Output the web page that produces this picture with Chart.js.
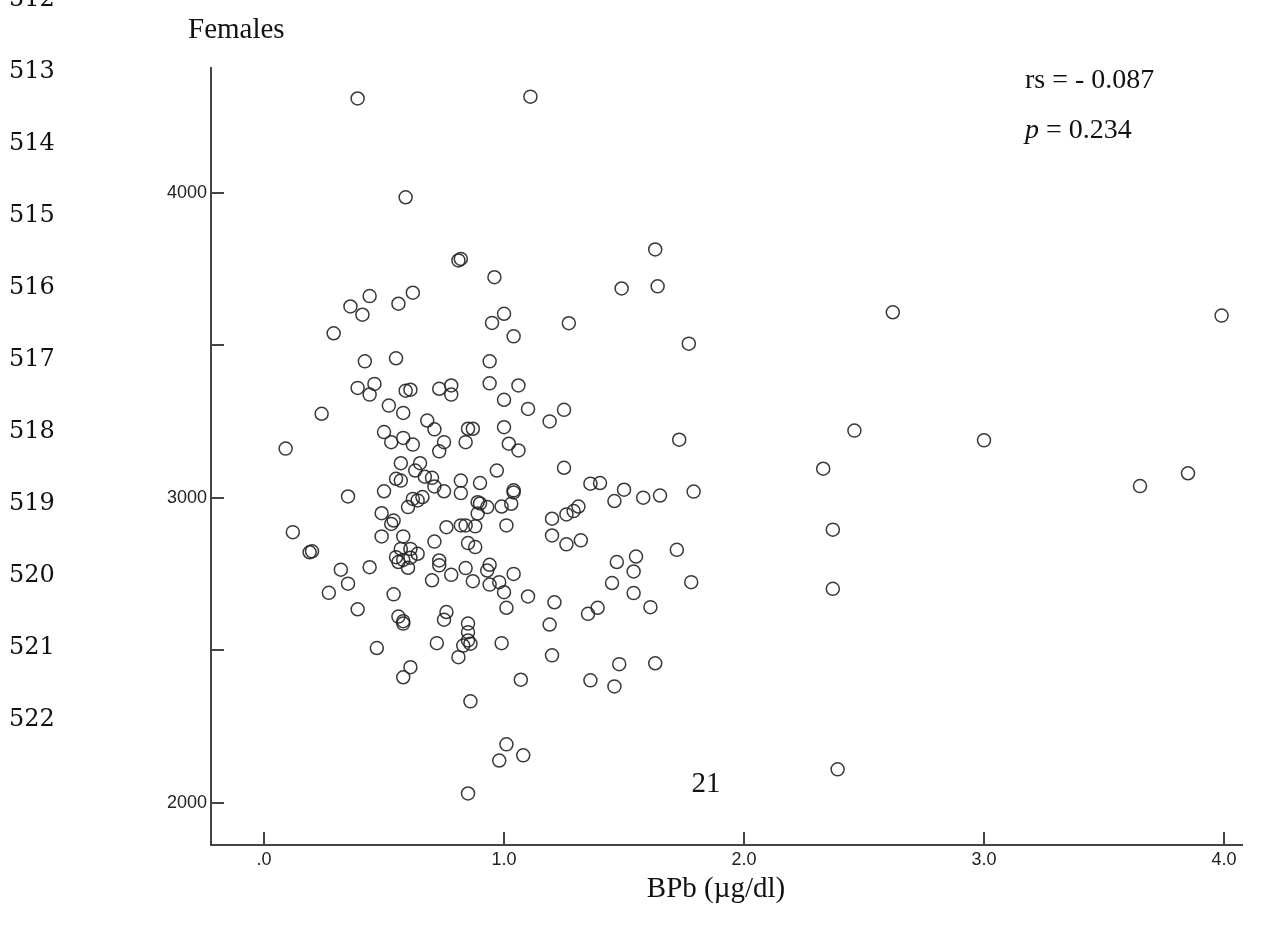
<!DOCTYPE html>
<html>
<head>
<meta charset="utf-8">
<title>Females - BPb scatter</title>
<script src="https://cdn.jsdelivr.net/npm/chart.js@4.4.1/dist/chart.umd.min.js"></script>
<style>
  html, body { margin: 0; padding: 0; background: #fff; }
  #wrap { width: 1264px; height: 944px; position: relative; }
</style>
</head>
<body>
<div id="wrap"><canvas id="chartFemales" width="1264" height="944"></canvas></div>
<script>
// --- data (females) ---
const bpbValues = [
  0.39, 1.11, 0.59, 0.81, 0.82, 0.96, 1.49, 0.44, 0.36, 0.41, 0.56, 0.62, 0.29, 0.95, 1.00, 1.04, 1.27, 0.42, 0.55, 0.94,
  1.63, 1.64, 1.77, 2.62, 3.99, 0.39, 0.46, 0.44, 0.59, 0.61, 0.73, 0.78, 0.78, 0.94, 1.06, 0.24, 0.52, 0.58, 1.00, 1.10,
  1.25, 1.19, 0.09, 0.50, 0.53, 0.58, 0.62, 0.68, 0.71, 0.75, 0.73, 0.84, 0.85, 0.87, 1.00, 1.02, 1.06, 1.25, 0.57, 0.65,
  0.63, 0.67, 0.70, 0.55, 0.57, 0.71, 0.75, 0.82, 0.90, 0.82, 0.97, 1.04, 1.04, 1.36, 1.40, 0.50, 0.35, 0.62, 0.64, 0.66,
  0.60, 0.49, 0.89, 0.90, 0.89, 0.93, 0.99, 1.03, 0.54, 0.53, 1.20, 1.26, 1.29, 1.31, 1.46, 0.76, 0.82, 0.84, 0.88, 1.01,
  0.12, 0.49, 0.58, 0.71, 0.85, 0.88, 1.20, 1.26, 1.32, 0.20, 0.19, 0.57, 0.61, 0.64, 0.55, 0.58, 0.61, 0.56, 0.60, 0.73,
  0.73, 0.84, 0.94, 0.93, 1.47, 0.32, 0.44, 0.35, 0.27, 0.70, 0.78, 0.87, 0.94, 0.98, 1.04, 1.00, 0.54, 0.39, 1.01, 1.10,
  1.21, 1.45, 0.56, 0.58, 0.58, 0.76, 0.75, 0.85, 0.85, 0.85, 0.83, 0.86, 1.19, 1.35, 1.39, 0.72, 0.81, 0.99, 1.20, 0.47,
  0.61, 0.58, 1.07, 1.36, 1.46, 1.48, 0.86, 1.73, 2.46, 3.00, 2.33, 1.50, 1.58, 1.65, 1.79, 2.37, 1.72, 1.55, 1.54, 1.78,
  1.54, 1.61, 2.37, 1.63, 3.65, 3.85, 1.01, 0.98, 1.08, 0.85, 2.39
];
const outcomeValues = [
  4310, 4316, 3986, 3779, 3784, 3724, 3687, 3662, 3628, 3601, 3637, 3673, 3540, 3574, 3604, 3530, 3573, 3448, 3458, 3448,
  3815, 3694, 3506, 3609, 3598, 3361, 3374, 3339, 3352, 3355, 3358, 3369, 3339, 3376, 3369, 3276, 3303, 3279, 3322, 3292,
  3289, 3251, 3162, 3216, 3183, 3197, 3175, 3254, 3225, 3183, 3153, 3183, 3227, 3227, 3232, 3178, 3156, 3099, 3114, 3114,
  3090, 3070, 3066, 3063, 3057, 3038, 3022, 3057, 3049, 3016, 3090, 3025, 3018, 3047, 3049, 3022, 3005, 2997, 2992, 3003,
  2970, 2950, 2986, 2982, 2949, 2970, 2972, 2981, 2926, 2915, 2932, 2946, 2957, 2972, 2990, 2904, 2910, 2910, 2907, 2910,
  2888, 2874, 2874, 2857, 2852, 2839, 2877, 2848, 2861, 2825, 2822, 2833, 2833, 2817, 2806, 2797, 2804, 2790, 2771, 2795,
  2779, 2770, 2781, 2762, 2790, 2765, 2773, 2719, 2689, 2730, 2748, 2727, 2716, 2724, 2751, 2691, 2684, 2635, 2640, 2677,
  2658, 2721, 2611, 2596, 2588, 2626, 2601, 2588, 2560, 2533, 2516, 2522, 2585, 2620, 2640, 2524, 2478, 2524, 2484, 2508,
  2445, 2412, 2404, 2402, 2382, 2455, 2333, 3191, 3221, 3189, 3096, 3027, 3001, 3008, 3021, 2896, 2830, 2808, 2759, 2724,
  2688, 2642, 2702, 2458, 3039, 3081, 2192, 2139, 2156, 2031, 2110
];

const xTickValues = [0, 1, 2, 3, 4];
const yTickValues = [2000, 2500, 3000, 3500, 4000];
const yLabelledTicks = [2000, 3000, 4000];
const lineNumbers = [512, 513, 514, 515, 516, 517, 518, 519, 520, 521, 522];

const points = bpbValues.map((x, i) => ({ x: x, y: outcomeValues[i] }));

const serif = '"Liberation Serif", "Times New Roman", serif';
const axisColor = '#444';

// tick marks drawn inward (SPSS style)
const inwardTicks = {
  id: 'inwardTicks',
  afterDraw(chart) {
    const { ctx, chartArea, scales } = chart;
    ctx.save();
    ctx.strokeStyle = axisColor;
    ctx.lineWidth = 2;
    ctx.beginPath();
    xTickValues.forEach(v => {
      const px = Math.round(scales.x.getPixelForValue(v));
      ctx.moveTo(px, chartArea.bottom);
      ctx.lineTo(px, chartArea.bottom - 13);
    });
    yTickValues.forEach(v => {
      const py = Math.round(scales.y.getPixelForValue(v));
      ctx.moveTo(chartArea.left, py);
      ctx.lineTo(chartArea.left + 13, py);
    });
    ctx.stroke();
    ctx.restore();
  }
};

// page text: line numbers, panel title, stats, page number, x title
const pageText = {
  id: 'pageText',
  afterDraw(chart) {
    const ctx = chart.ctx;
    ctx.save();
    ctx.fillStyle = '#111';
    ctx.textBaseline = 'alphabetic';

    ctx.font = '24px "DejaVu Serif", serif';
    ctx.textAlign = 'left';
    lineNumbers.forEach(n => {
      ctx.fillText(String(n), 9, 78 + 72 * (n - 513));
    });

    ctx.font = '29px ' + serif;
    ctx.fillText('Females', 188, 38);

    ctx.font = '28px ' + serif;
    ctx.fillText('rs = - 0.087', 1025, 88);
    ctx.font = 'italic 28px ' + serif;
    ctx.fillText('p', 1025, 138);
    const pw = ctx.measureText('p').width;
    ctx.font = '28px ' + serif;
    ctx.fillText(' = 0.234', 1025 + pw, 138);

    ctx.textAlign = 'center';
    ctx.font = '29px ' + serif;
    ctx.fillText('21', 706, 792);
    ctx.fillText('BPb (\u00b5g/dl)', 716, 897);
    ctx.restore();
  }
};

new Chart(document.getElementById('chartFemales').getContext('2d'), {
  type: 'scatter',
  data: {
    datasets: [{
      label: 'Females',
      data: points,
      pointStyle: 'circle',
      pointRadius: 6.5,
      pointHoverRadius: 6.5,
      pointBorderWidth: 1.5,
      pointBorderColor: 'rgba(35,35,35,0.9)',
      pointBackgroundColor: 'rgba(0,0,0,0)'
    }]
  },
  options: {
    responsive: false,
    animation: false,
    devicePixelRatio: 1,
    layout: { padding: { top: 68, right: 22, bottom: 0, left: 0 } },
    plugins: { legend: { display: false }, tooltip: { enabled: false } },
    scales: {
      x: {
        type: 'linear',
        min: -0.221,
        max: 4.075,
        afterBuildTicks: s => { s.ticks = xTickValues.map(v => ({ value: v })); },
        afterFit: s => { s.height = 99; },
        grid: { display: false, drawTicks: false },
        border: { display: true, color: axisColor, width: 2 },
        ticks: {
          padding: 4, color: '#222', autoSkip: false, maxRotation: 0,
          font: { family: '"Liberation Sans", Arial, sans-serif', size: 18 },
          callback: v => v === 0 ? '.0' : Number(v).toFixed(1)
        }
      },
      y: {
        type: 'linear',
        min: 1862,
        max: 4410,
        afterBuildTicks: s => { s.ticks = yTickValues.map(v => ({ value: v })); },
        afterFit: s => { s.width = 211; },
        grid: { display: false, drawTicks: false },
        border: { display: true, color: axisColor, width: 2 },
        ticks: {
          padding: 4, color: '#222', autoSkip: false,
          font: { family: '"Liberation Sans", Arial, sans-serif', size: 18 },
          callback: v => yLabelledTicks.includes(v) ? String(v) : ''
        }
      }
    }
  },
  plugins: [inwardTicks, pageText]
});
</script>
</body>
</html>
